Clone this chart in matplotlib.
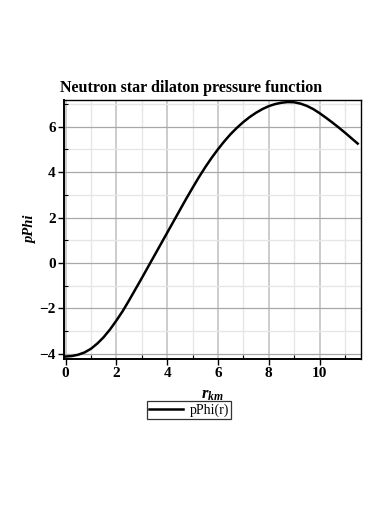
import matplotlib
matplotlib.use("Agg")
import matplotlib.pyplot as plt
from matplotlib.ticker import MultipleLocator, FixedLocator, FixedFormatter

plt.rcParams['font.family'] = ['Liberation Serif', 'DejaVu Serif']
plt.rcParams['mathtext.fontset'] = 'custom'
plt.rcParams['mathtext.it'] = 'Liberation Serif:italic:bold'
plt.rcParams['mathtext.rm'] = 'Liberation Serif:bold'

title = "Neutron star dilaton pressure function"
xlabel = r"$r_{km}$"
ylabel = "pPhi"
legend_label = "pPhi(r)"

r_km = [0.0, 0.25, 0.5, 0.75, 1.0, 1.25, 1.5, 1.75, 2.0, 2.25, 2.5, 2.75,
        3.0, 3.25, 3.5, 3.75, 4.0, 4.25, 4.5, 4.75, 5.0, 5.25, 5.5, 5.75,
        6.0, 6.25, 6.5, 6.75, 7.0, 7.25, 7.5, 7.75, 8.0, 8.25, 8.5, 8.75,
        9.0, 9.25, 9.5, 9.75, 10.0, 10.25, 10.5, 10.75, 11.0, 11.25, 11.5]
pPhi = [-4.12, -4.10, -4.04, -3.94, -3.78, -3.55, -3.27, -2.93, -2.54, -2.12,
        -1.65, -1.16, -0.67, -0.17, 0.33, 0.83, 1.33, 1.83, 2.33, 2.83,
        3.31, 3.78, 4.22, 4.63, 5.01, 5.36, 5.68, 5.96, 6.21, 6.43,
        6.62, 6.78, 6.91, 7.00, 7.06, 7.09, 7.08, 7.02, 6.92, 6.78,
        6.60, 6.40, 6.19, 5.97, 5.74, 5.50, 5.26]

xticks = [0, 2, 4, 6, 8, 10]
xticklabels = ["0", "2", "4", "6", "8", "10"]
yticks = [-4, -2, 0, 2, 4, 6]
yticklabels = ["\u22124", "\u22122", "0", "2", "4", "6"]

fig = plt.figure(figsize=(3.9, 5.05), dpi=100)
ax = fig.add_axes([64/390, 1-359/505, (361-64)/390, (359-100)/505])

ax.set_xlim(-0.06, 11.63)
ax.set_ylim(-4.23, 7.18)

# grids
for xv in range(0, 12):
    if xv % 2 == 0:
        ax.axvline(xv, color='#c8c8c8', lw=1.3, zorder=0)
    else:
        ax.axvline(xv, color='#e6e6e6', lw=1.0, zorder=0)
for yv in range(-4, 8):
    if yv % 2 == 0:
        ax.axhline(yv, color='#a8a8a8', lw=0.9, zorder=0)
    else:
        ax.axhline(yv, color='#e6e6e6', lw=1.0, zorder=0)

ax.plot(r_km, pPhi, color='black', lw=1.8, label=legend_label, zorder=3)

ax.xaxis.set_major_locator(FixedLocator(xticks))
ax.xaxis.set_major_formatter(FixedFormatter(xticklabels))
ax.yaxis.set_major_locator(FixedLocator(yticks))
ax.yaxis.set_major_formatter(FixedFormatter(yticklabels))
ax.xaxis.set_minor_locator(MultipleLocator(1))
ax.yaxis.set_minor_locator(MultipleLocator(1))
ax.tick_params(which='major', direction='out', length=4, width=1, labelsize=11, pad=2)
ax.tick_params(which='minor', direction='in', length=3, width=0.8)
for lab in ax.get_xticklabels() + ax.get_yticklabels():
    lab.set_fontweight('bold')

for sp in ax.spines.values():
    sp.set_color('black')
    sp.set_linewidth(1.0)
ax.spines['left'].set_linewidth(1.4)
ax.spines['bottom'].set_linewidth(1.4)

fig.text(60/390, 1-88/505, title, fontsize=11.5, fontweight='bold', ha='left', va='center')
ax.set_ylabel(ylabel, fontsize=10.5, fontweight='bold', fontstyle='italic')
ax.yaxis.set_label_coords(-0.09, 0.5)
ax.set_xlabel(xlabel, fontsize=12)
ax.xaxis.set_label_coords(0.5, -0.11)

leg = ax.legend(loc='center', bbox_to_anchor=(189/390, 1-410/505),
                bbox_transform=fig.transFigure, fontsize=10, frameon=True,
                fancybox=False, borderpad=0.15, handlelength=2.4,
                handletextpad=0.5, borderaxespad=0)
leg.get_frame().set_edgecolor('black')
leg.get_frame().set_linewidth(0.9)

fig.savefig("out.png", dpi=100)
